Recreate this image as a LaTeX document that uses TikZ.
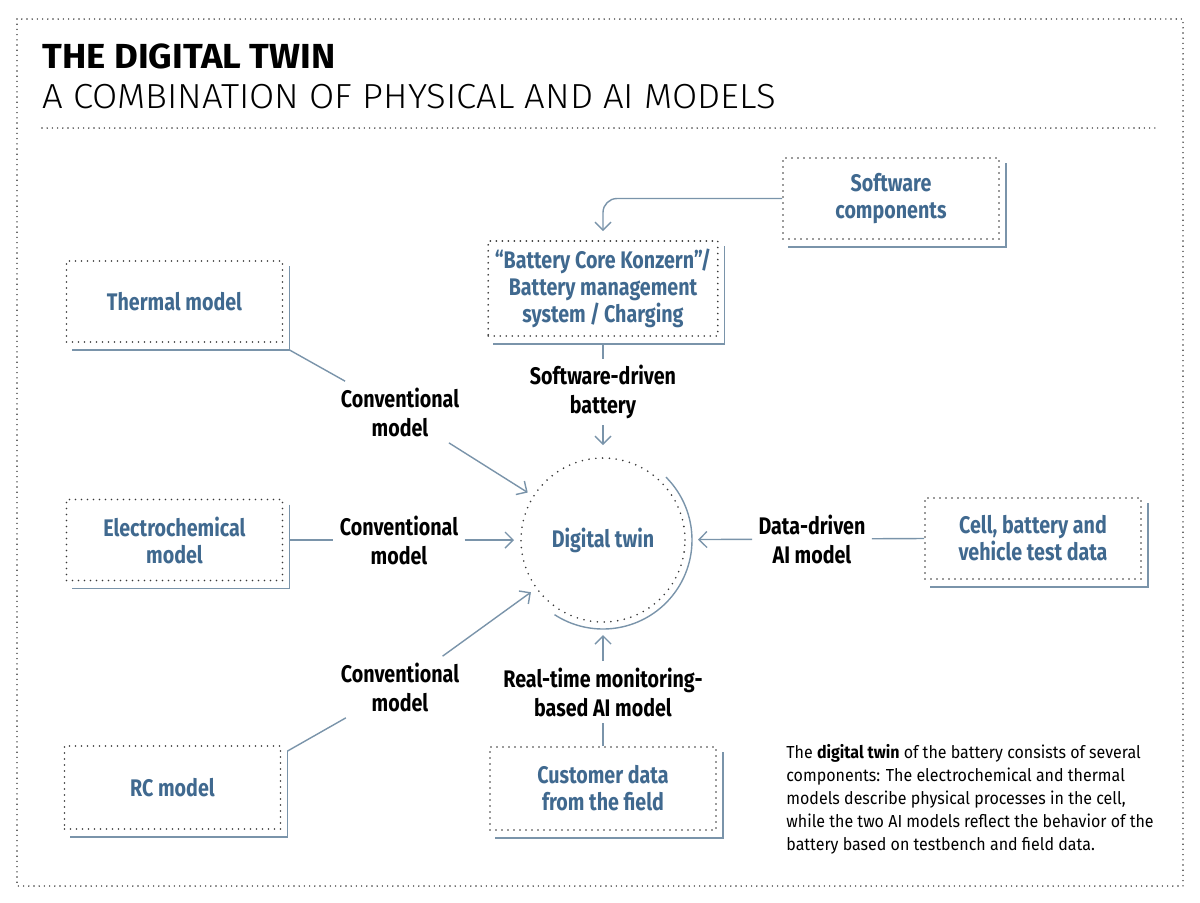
\documentclass[tikz,border=0pt]{standalone}
\usepackage{fontspec}
\setmainfont{Fira Sans}[FakeStretch=0.82]
\newfontfamily\titlefont{Fira Sans}[FakeStretch=1.05]
\newfontfamily\subfont{Fira Sans Light}[FakeStretch=1.05]
\newfontfamily\notefont{Fira Sans}[FakeStretch=0.92]
\usepackage{xcolor}
\usetikzlibrary{arrows.meta, positioning, calc}

\definecolor{twinblue}{RGB}{64,105,143}
\definecolor{linegray}{RGB}{122,148,170}
\definecolor{dotgray}{RGB}{55,55,55}

% offset solid edge behind a box, plus its two outer corners
\newcommand{\partshadow}[1]{%
    \draw[link] ([shift={(6,6)}]#1.north east) |- ([shift={(6,7)}]#1.south west);
    \coordinate (#1-ne) at ([shift={(6,6)}]#1.north east);
    \coordinate (#1-se) at ([shift={(6,7)}]#1.south east);}

\begin{document}
\begin{tikzpicture}[
        x=0.5pt, y=-0.5pt,
        dots/.style={draw=dotgray, line width=0.9pt, line cap=round, dash pattern=on 0pt off 3pt},
        frame/.style={draw=dotgray, line width=0.8pt, line cap=round, dash pattern=on 0pt off 2.6pt},
        part/.style={dots, minimum width=108pt, minimum height=40.5pt, align=center, text=twinblue,
            font=\bfseries\fontsize{12}{13.5}\selectfont},
        tag/.style={align=center, inner sep=3pt, font=\bfseries\fontsize{12}{14.5}\selectfont},
        link/.style={draw=linegray, line width=0.7pt},
        feed/.style={link, -{Straight Barb[length=4pt, width=8pt]}}
    ]
        \useasboundingbox (0,0) rectangle (1200,902);
        \draw[frame] (17,19) rectangle (1183,886);

        % Heading
        \node[anchor=north west, inner sep=0pt, font=\titlefont\bfseries\fontsize{17.4}{20}\selectfont] (title) at (42,43) {THE DIGITAL TWIN};
        \node[below right=7.5pt and 0pt of title.south west, inner sep=0pt, font=\subfont\fontsize{17.4}{20}\selectfont] (subtitle) {A COMBINATION OF PHYSICAL AND AI MODELS};
        \draw[frame] (42,128) -- (1160,128);

        % Input boxes
        \node[part] (thermal) at (174.5,301.5) {Thermal model};
        \node[part] (electro) at (174.5,540) {Electrochemical\\model};
        \node[part, minimum height=41.5pt] (rc) at (172.5,787.5) {RC model};
        \node[part] (software) at (891,198.5) {Software\\components};
        \node[part, minimum width=113.5pt, minimum height=47.5pt] (bms) at (603,288.5) {“Battery Core Konzern”/\\Battery management\\system\,/\,Charging};
        \node[part] (testdata) at (1033,538.5) {Cell, battery and\\vehicle test data};
        \node[part, minimum width=113pt, minimum height=41.5pt] (customer) at (603,788.5) {Customer data\\from the field};
        \partshadow{thermal}
        \partshadow{electro}
        \partshadow{rc}
        \partshadow{software}
        \partshadow{bms}
        \partshadow{testdata}
        \partshadow{customer}

        % Digital twin
        \node[circle, dots, dash pattern=on 0pt off 3.4pt, minimum size=82pt, outer sep=3.5pt, text=twinblue,
            font=\bfseries\fontsize{12}{13.5}\selectfont] (twin) at (603,540) {Digital twin};
        \draw[link] ([shift={(-45:89)}]twin.center) arc[start angle=-45, end angle=123, radius=89];

        % Model labels
        \node[tag] (conv-th) at (400,412) {Conventional\\model};
        \node[tag] (conv-el) at (399,540) {Conventional\\model};
        \node[tag] (conv-rc) at (400,687) {Conventional\\model};
        \node[tag] (sw-driven) at (603,392) {Software-driven\\battery};
        \node[tag] (data-driven) at (812,539) {Data-driven\\AI model};
        \node[tag] (realtime) at (603,692) {Real-time monitoring-\\based AI model};

        % Physical models
        \draw[link] (thermal-se) -- (conv-th);
        \draw[feed] (conv-th) -- (twin);
        \draw[link] ([xshift=3pt]electro.east) -- (conv-el);
        \draw[feed] (conv-el) -- (twin);
        \draw[link] (rc-ne) -- (conv-rc);
        \draw[feed] (conv-rc) -- (twin);

        % Software and AI models
        \draw[feed, rounded corners=7pt, shorten >=4.5pt] (software.west) -| (bms.north);
        \draw[link] ([yshift=-3.5pt]bms.south) -- (sw-driven);
        \draw[feed, shorten >=3pt] (sw-driven) -- (twin);
        \draw[link] (testdata.west) -- (data-driven);
        \draw[feed, shorten >=3pt] (data-driven) -- (twin);
        \draw[link] (customer.north) -- (realtime);
        \draw[feed, shorten >=3pt] (realtime) -- (twin);

        \node[anchor=north west, inner sep=0pt, align=left, font=\notefont\fontsize{8.7}{11.5}\selectfont] (note) at (786,744)
            {The \textbf{digital twin} of the battery consists of several\\
             components: The electrochemical and thermal\\
             models describe physical processes in the cell,\\
             while the two AI models reflect the behavior of the\\
             battery based on testbench and field data.};
    \end{tikzpicture}
\end{document}
